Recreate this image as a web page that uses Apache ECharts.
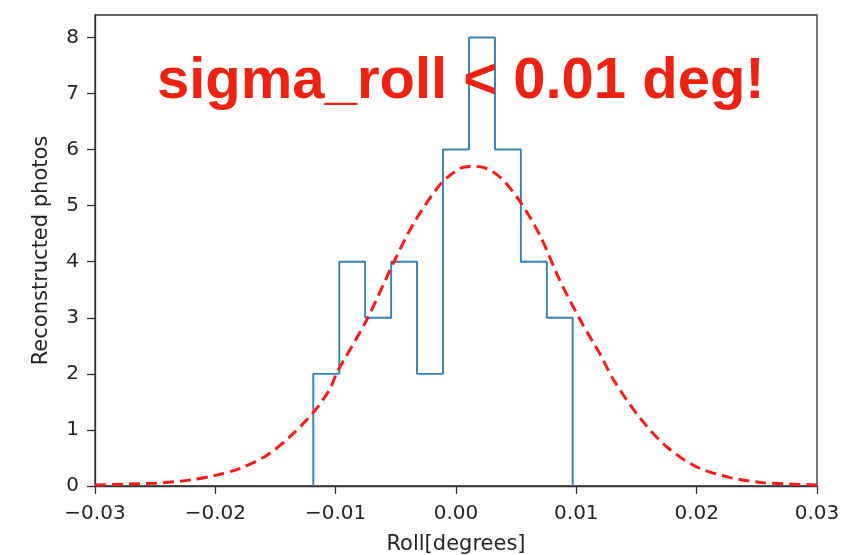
<!DOCTYPE html>
<html>
<head>
<meta charset="utf-8">
<script src="https://cdn.jsdelivr.net/npm/echarts@6/dist/echarts.min.js"></script>
<style>
  html, body { margin: 0; padding: 0; background: #fff; }
  #chart { width: 853px; height: 555px; }
</style>
</head>
<body>
<div id="chart"></div>
<script>
// Histogram of roll residuals (bin edges and counts per bin)
const binEdges = [-0.01186, -0.00970, -0.00755, -0.00539, -0.00324, -0.00108,
                  0.00108, 0.00324, 0.00539, 0.00755, 0.00970];
const binCounts = [2, 4, 3, 4, 2, 6, 8, 6, 4, 3];

// Fitted gaussian curve, sampled points
const fitX = [-0.030, -0.025, -0.022, -0.020, -0.018, -0.0157, -0.0138, -0.0119, -0.0105,
              -0.0099, -0.0074, -0.0052, -0.0035, -0.0013, 0.0003, 0.0012, 0.0023, 0.0037,
              0.0053, 0.0070, 0.0086, 0.0103, 0.0120, 0.0131, 0.0153, 0.0175, 0.0200,
              0.0228, 0.0255, 0.030];
const fitY = [0.02, 0.05, 0.11, 0.19, 0.31, 0.55, 0.88, 1.30, 1.72,
              2.02, 2.97, 3.98, 4.69, 5.38, 5.66, 5.70, 5.68, 5.50,
              5.08, 4.46, 3.68, 2.97, 2.34, 1.89, 1.21, 0.70, 0.34,
              0.15, 0.06, 0.02];

// Axis ticks
const xTicks = [-0.03, -0.02, -0.01, 0.00, 0.01, 0.02, 0.03];
const yTicks = [0, 1, 2, 3, 4, 5, 6, 7, 8];

const annotation = 'sigma_roll < 0.01 deg!';

// Step outline of the histogram
const stepPoints = [[binEdges[0], 0]];
binCounts.forEach((c, i) => {
  stepPoints.push([binEdges[i], c]);
  stepPoints.push([binEdges[i + 1], c]);
});
stepPoints.push([binEdges[binEdges.length - 1], 0]);

const fitPoints = fitX.map((x, i) => [x, fitY[i]]);

const axisFont = 'DejaVu Sans';
const inkColor = '#262626';

const chart = echarts.init(document.getElementById('chart'), null, { renderer: 'canvas' });
chart.setOption({
  animation: false,
  backgroundColor: '#ffffff',
  grid: {
    left: 95, right: 36, top: 15, bottom: 69,
    outerBoundsMode: 'none',
    containLabel: false,
    show: true, borderColor: '#333', borderWidth: 1.3, backgroundColor: 'transparent'
  },
  xAxis: {
    type: 'value',
    min: -0.03, max: 0.03, interval: 0.01,
    name: 'Roll[degrees]',
    nameLocation: 'middle',
    nameGap: 48,
    nameTextStyle: { fontFamily: axisFont, fontSize: 21, color: inkColor },
    axisLine: { show: true, onZero: false, lineStyle: { color: '#333', width: 1.3 } },
    axisTick: { show: true, inside: false, length: 8, customValues: xTicks,
                lineStyle: { color: '#333', width: 1.3 } },
    axisLabel: {
      customValues: xTicks,
      margin: 18,
      fontFamily: axisFont, fontSize: 20, color: inkColor,
      formatter: v => v.toFixed(2).replace('-', '\u2212')
    },
    splitLine: { show: false }
  },
  yAxis: {
    type: 'value',
    min: 0, max: 8.4, interval: 1,
    name: 'Reconstructed photos',
    nameLocation: 'middle',
    nameGap: 43,
    nameRotate: 90,
    nameTextStyle: { fontFamily: axisFont, fontSize: 21, color: inkColor },
    axisLine: { show: true, onZero: false, lineStyle: { color: '#333', width: 1.3 } },
    axisTick: { show: true, inside: false, length: 8, customValues: yTicks,
                lineStyle: { color: '#333', width: 1.3 } },
    axisLabel: {
      customValues: yTicks,
      margin: 16,
      fontFamily: axisFont, fontSize: 20, color: inkColor
    },
    splitLine: { show: false }
  },
  series: [
    {
      type: 'line',
      data: stepPoints,
      showSymbol: false,
      lineStyle: { color: '#3682be', width: 1.9 },
      z: 2
    },
    {
      type: 'line',
      data: fitPoints,
      showSymbol: false,
      smooth: 0.3,
      lineStyle: { color: '#ff1a1a', width: 3, type: [11, 6] },
      z: 3
    }
  ],
  graphic: [
    {
      type: 'text',
      left: 157,
      top: 53,
      z: 10,
      style: {
        text: annotation,
        fontFamily: 'Liberation Sans, Arial, sans-serif',
        fontWeight: 'bold',
        fontSize: 58,
        fill: '#ee2211'
      }
    }
  ]
});
</script>
</body>
</html>
